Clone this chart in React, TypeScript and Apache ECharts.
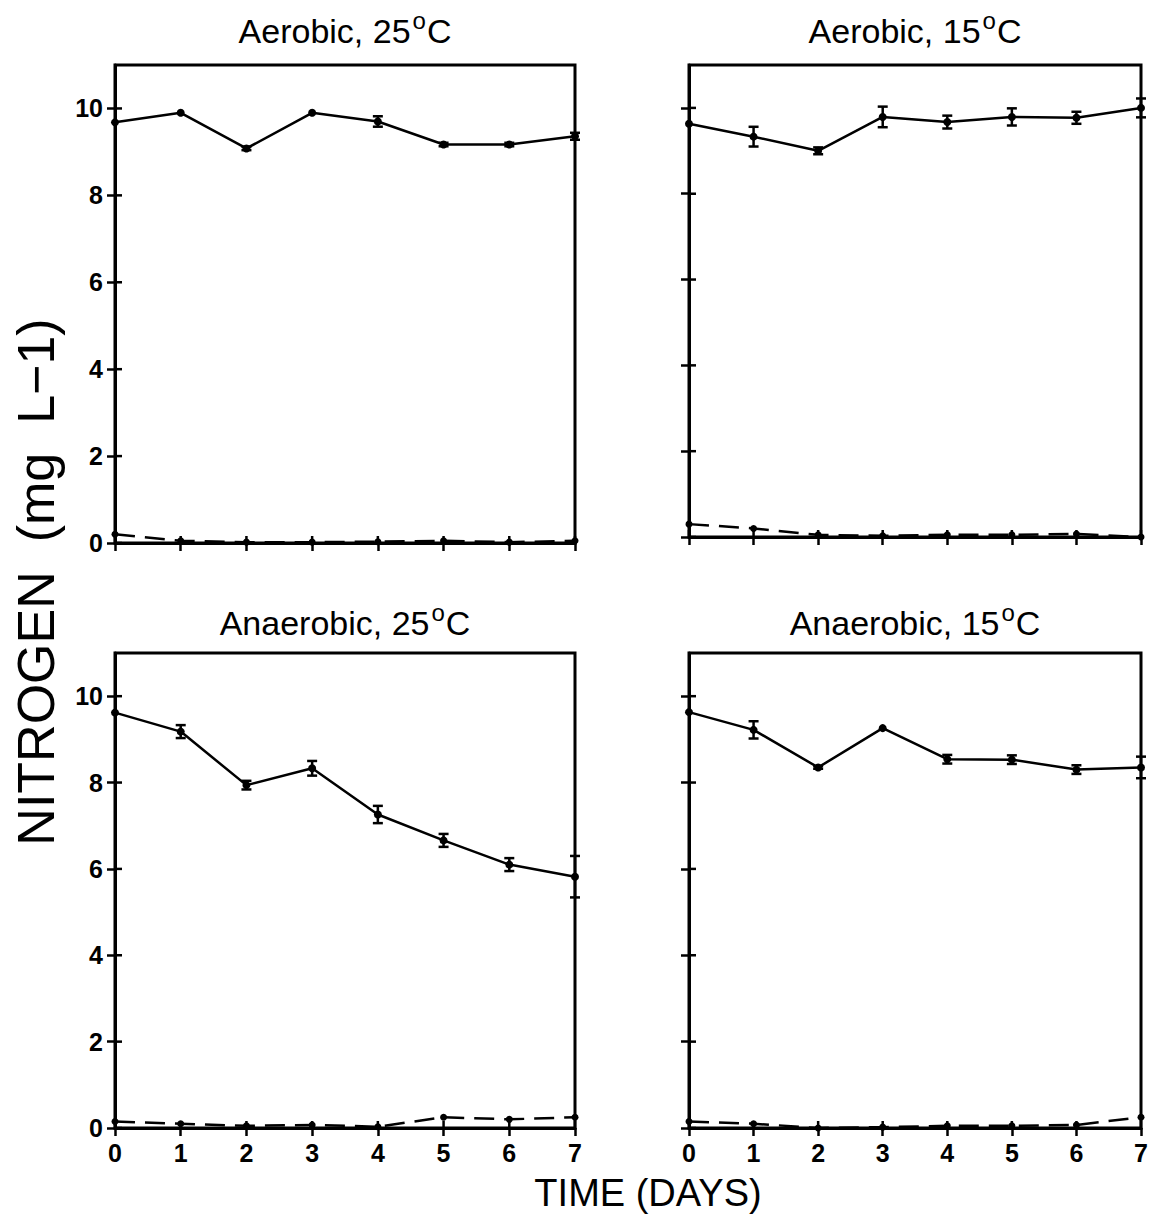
import React, { useEffect, useRef } from "react";
import * as echarts from "echarts";

const days = [0, 1, 2, 3, 4, 5, 6, 7];
const yTicks = [0, 2, 4, 6, 8, 10];
const xTicks = [0, 1, 2, 3, 4, 5, 6, 7];

const aer25Solid = [9.68, 9.9, 9.08, 9.9, 9.7, 9.17, 9.17, 9.36];
const aer25Err = [0, 0, 0.04, 0, 0.12, 0.04, 0.04, 0.08];
const aer25Dashed = [0.2, 0.05, 0.02, 0.02, 0.03, 0.05, 0.02, 0.05];

const aer15Solid = [9.63, 9.33, 9.0, 9.79, 9.67, 9.79, 9.77, 10.0];
const aer15Err = [0, 0.23, 0.08, 0.24, 0.15, 0.2, 0.14, 0.22];
const aer15Dashed = [0.3, 0.2, 0.05, 0.03, 0.05, 0.05, 0.07, 0.0];

const ana25Solid = [9.62, 9.18, 7.94, 8.33, 7.26, 6.66, 6.1, 5.82];
const ana25Err = [0, 0.15, 0.1, 0.17, 0.2, 0.15, 0.15, 0.48];
const ana25Dashed = [0.15, 0.1, 0.05, 0.07, 0.03, 0.25, 0.2, 0.25];

const ana15Solid = [9.63, 9.22, 8.35, 9.26, 8.54, 8.53, 8.3, 8.35];
const ana15Err = [0, 0.2, 0.03, 0, 0.1, 0.1, 0.1, 0.25];
const ana15Dashed = [0.15, 0.1, 0.0, 0.02, 0.05, 0.05, 0.07, 0.25];

const panelTitles = [
  ["Aerobic, 25", "C"],
  ["Aerobic, 15", "C"],
  ["Anaerobic, 25", "C"],
  ["Anaerobic, 15", "C"],
];

const panels = [
  { solid: aer25Solid, err: aer25Err, dashed: aer25Dashed },
  { solid: aer15Solid, err: aer15Err, dashed: aer15Dashed },
  { solid: ana25Solid, err: ana25Err, dashed: ana25Dashed },
  { solid: ana15Solid, err: ana15Err, dashed: ana15Dashed },
];

const grids = [
  { left: 115, top: 65, width: 460, height: 478 },
  { left: 689, top: 65, width: 452, height: 472 },
  { left: 115, top: 653, width: 460, height: 475 },
  { left: 689, top: 653, width: 452, height: 475 },
];

const FONT = "Liberation Sans";

export default function App() {
  const ref = useRef<HTMLDivElement>(null);
  useEffect(() => {
    if (!ref.current) return;
    const chart = echarts.init(ref.current, undefined, { renderer: "svg" });

    const xAxis: any[] = [];
    const yAxis: any[] = [];
    const series: any[] = [];
    const graphic: any[] = [];
    const tickStyle = { stroke: "#000", lineWidth: 2.5 };

    grids.forEach((g, i) => {
      const showY = i === 0 || i === 2;
      const showX = i === 2 || i === 3;
      xAxis.push({
        type: "value",
        gridIndex: i,
        min: 0,
        max: 7,
        interval: 1,
        position: "bottom",
        axisLine: { show: true, onZero: false, lineStyle: { color: "#000", width: 3 } },
        axisTick: { show: true, inside: false, length: 8, lineStyle: { color: "#000", width: 2.5 } },
        splitLine: { show: false },
        axisLabel: {
          show: showX,
          margin: 12,
          color: "#000",
          fontSize: 25,
          fontWeight: "bold",
          fontFamily: FONT,
        },
      });
      yAxis.push({
        type: "value",
        gridIndex: i,
        min: 0,
        max: 11,
        position: "left",
        axisLine: { show: true, onZero: false, lineStyle: { color: "#000", width: 3 } },
        axisTick: {
          show: true,
          inside: false,
          length: 8,
          customValues: yTicks,
          lineStyle: { color: "#000", width: 2.5 },
        },
        splitLine: { show: false },
        axisLabel: {
          show: showY,
          customValues: yTicks,
          margin: 12,
          color: "#000",
          fontSize: 25,
          fontWeight: "bold",
          fontFamily: FONT,
        },
      });

      // inner halves of the crossing ticks
      series.push({
        type: "custom",
        xAxisIndex: i,
        yAxisIndex: i,
        data: yTicks.map((v) => [0, v]),
        encode: { x: 0, y: 1 },
        clip: false,
        silent: true,
        renderItem: (params: any, api: any) => {
          const p = api.coord([api.value(0), api.value(1)]);
          return { type: "line", shape: { x1: p[0], y1: p[1], x2: p[0] + 7, y2: p[1] }, style: tickStyle };
        },
      });
      series.push({
        type: "custom",
        xAxisIndex: i,
        yAxisIndex: i,
        data: xTicks.map((v) => [v, 0]),
        encode: { x: 0, y: 1 },
        clip: false,
        silent: true,
        renderItem: (params: any, api: any) => {
          const p = api.coord([api.value(0), api.value(1)]);
          return { type: "line", shape: { x1: p[0], y1: p[1], x2: p[0], y2: p[1] - 7 }, style: tickStyle };
        },
      });

      const p = panels[i];
      series.push({
        type: "line",
        xAxisIndex: i,
        yAxisIndex: i,
        data: days.map((d, k) => [d, p.solid[k]]),
        symbol: "circle",
        symbolSize: 8,
        itemStyle: { color: "#000" },
        lineStyle: { color: "#000", width: 2.5 },
        clip: false,
      });
      series.push({
        type: "line",
        xAxisIndex: i,
        yAxisIndex: i,
        data: days.map((d, k) => [d, p.dashed[k]]),
        symbol: "circle",
        symbolSize: 7,
        itemStyle: { color: "#000" },
        lineStyle: { color: "#000", width: 2.5, type: [20, 10] },
        clip: false,
      });
      const errData = days
        .map((d, k) => [d, p.solid[k] - p.err[k], p.solid[k] + p.err[k], p.err[k]])
        .filter((r) => r[3] > 0);
      series.push({
        type: "custom",
        xAxisIndex: i,
        yAxisIndex: i,
        data: errData,
        encode: { x: 0, y: [1, 2] },
        clip: false,
        renderItem: (params: any, api: any) => {
          const x = api.value(0);
          const lo = api.coord([x, api.value(1)]);
          const hi = api.coord([x, api.value(2)]);
          const w = 5;
          const st = { stroke: "#000", lineWidth: 2.5 };
          return {
            type: "group",
            children: [
              { type: "line", shape: { x1: lo[0], y1: lo[1], x2: hi[0], y2: hi[1] }, style: st },
              { type: "line", shape: { x1: lo[0] - w, y1: lo[1], x2: lo[0] + w, y2: lo[1] }, style: st },
              { type: "line", shape: { x1: hi[0] - w, y1: hi[1], x2: hi[0] + w, y2: hi[1] }, style: st },
            ],
          };
        },
      });

      const [pre, post] = panelTitles[i];
      graphic.push({
        type: "text",
        x: g.left + g.width / 2,
        y: i < 2 ? 28 : 620,
        style: {
          text: `{a|${pre}}{s|o}{a|${post}}`,
          align: "center",
          verticalAlign: "middle",
          rich: {
            a: { fontSize: 34, fontFamily: FONT, fill: "#000", lineHeight: 40, verticalAlign: "bottom" },
            s: { fontSize: 24, fontFamily: FONT, fill: "#000", lineHeight: 40, verticalAlign: "top", padding: [0, 1, 0, 2] },
          },
        },
      });
    });

    graphic.push({
      type: "text",
      x: 648,
      y: 1193,
      style: {
        text: "TIME (DAYS)",
        fontSize: 38,
        fontFamily: FONT,
        fill: "#000",
        align: "center",
        verticalAlign: "middle",
      },
    });
    graphic.push({
      type: "text",
      x: 36,
      y: 582,
      rotation: Math.PI / 2,
      style: {
        text: "NITROGEN  (mg  L\u22121)",
        fontSize: 52,
        fontFamily: FONT,
        fill: "#000",
        align: "center",
        verticalAlign: "middle",
      },
    });

    chart.setOption({
      animation: false,
      backgroundColor: "#fff",
      grid: grids.map((g) => ({
        ...g,
        show: true,
        borderColor: "#000",
        borderWidth: 3,
        backgroundColor: "transparent",
      })),
      xAxis,
      yAxis,
      series,
      graphic,
    });
    return () => chart.dispose();
  }, []);
  return (
    <div
      ref={ref}
      style={{ position: "absolute", left: 0, top: 0, width: 1154, height: 1224, background: "#fff" }}
    />
  );
}
